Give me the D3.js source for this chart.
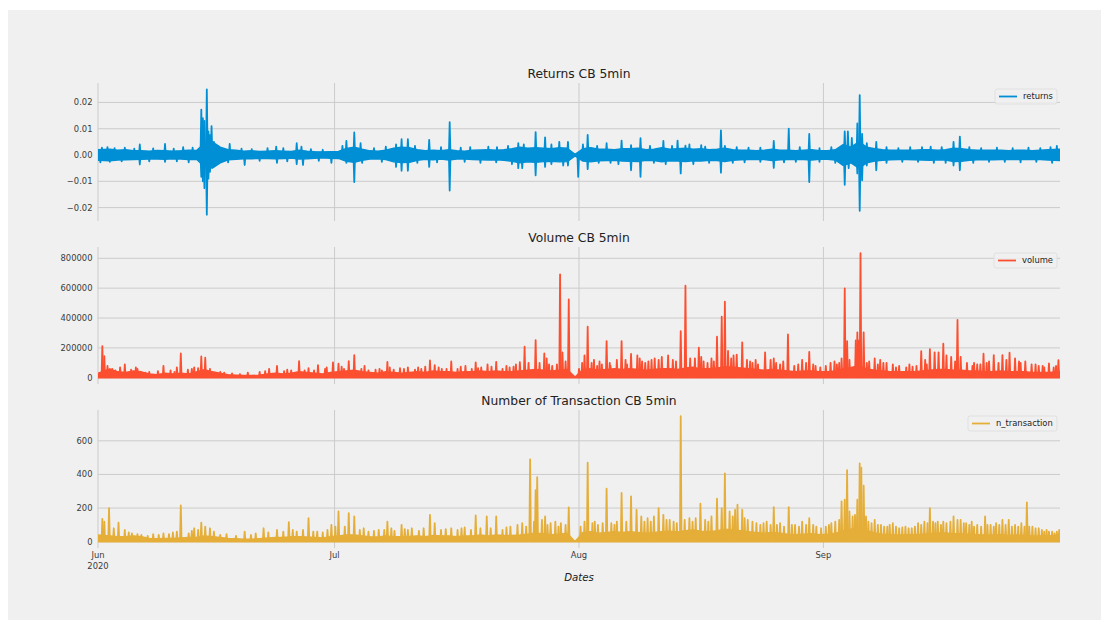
<!DOCTYPE html>
<html><head><meta charset="utf-8">
<script src="https://cdn.jsdelivr.net/npm/d3@7"></script>
<style>body{margin:0;background:#fff}text{font-family:"DejaVu Sans",sans-serif}</style>
</head><body>
<svg id="chart" width="1109" height="622"></svg>
<script>
// ---------------- DATA ----------------
const startDate = "2020-06-01";
const endDate = "2020-10-01";
const monthTicks = ["2020-06-01", "2020-07-01", "2020-08-01", "2020-09-01"];
const monthLabels = [["Jun", "2020"], ["Jul"], ["Aug"], ["Sep"]];

const returnsTicks = [-0.02, -0.01, 0, 0.01, 0.02];
const volumeTicks = [0, 200000, 400000, 600000, 800000];
const ntransTicks = [0, 200, 400, 600];

// daily envelope of the 5-min returns (x 0.001)
const returnsUp = [2.0,2.2,1.8,2.0,1.6,1.6,1.5,1.7,1.6,1.5,1.6,1.8,1.7,4.5,5.0,3.0,2.0,1.8,1.5,1.6,1.4,1.5,1.6,1.5,1.4,1.8,1.5,1.3,1.2,1.3,
  1.4,2.5,3.0,2.2,1.6,1.5,1.8,2.6,3.0,2.8,2.0,1.6,1.8,1.6,2.0,1.6,1.5,1.8,1.9,2.0,1.8,2.0,2.4,3.0,2.6,2.8,2.6,2.4,2.8,2.6,0.3,
  2.4,2.8,2.2,2.2,2.0,2.4,2.4,2.6,2.0,2.2,2.8,2.2,2.4,2.6,2.2,2.4,2.0,2.2,2.6,2.0,1.8,1.8,1.6,1.8,2.2,1.8,1.8,1.6,1.8,2.0,1.6,
  1.6,2.0,4.0,3.0,5.0,3.0,2.4,2.0,1.8,1.8,1.8,1.8,2.0,2.0,1.8,2.0,2.6,2.4,2.0,1.8,1.8,1.8,1.8,1.6,1.8,1.8,1.6,1.8,2.0,2.2];
const returnsDown = [-2.0,-2.2,-1.9,-1.8,-1.7,-1.6,-1.5,-1.5,-1.6,-1.4,-1.5,-1.7,-1.6,-4.5,-5.0,-3.0,-1.8,-1.6,-1.4,-1.4,-1.3,-1.3,-1.4,-1.3,-1.2,-1.5,-1.4,-1.2,-1.1,-1.2,
  -1.3,-2.4,-2.8,-2.0,-1.5,-1.4,-1.7,-2.6,-2.9,-2.8,-2.0,-1.6,-1.8,-1.5,-1.9,-1.5,-1.5,-1.7,-1.8,-1.9,-1.8,-2.0,-2.4,-3.0,-2.6,-2.8,-2.5,-2.4,-2.6,-2.5,-0.3,
  -2.3,-2.6,-2.2,-2.1,-2.0,-2.3,-2.4,-2.5,-2.0,-2.1,-2.6,-2.2,-2.3,-2.5,-2.2,-2.3,-2.0,-2.1,-2.5,-2.0,-1.8,-1.7,-1.6,-1.7,-2.1,-1.8,-1.7,-1.6,-1.7,-1.9,-1.6,
  -1.6,-1.9,-4.0,-3.0,-5.0,-3.0,-2.3,-2.0,-1.8,-1.7,-1.7,-1.8,-1.9,-2.0,-1.8,-1.9,-2.5,-2.4,-2.0,-1.8,-1.7,-1.8,-1.7,-1.6,-1.7,-1.7,-1.6,-1.7,-1.9,-2.1];
// spikes [day offset from start, value x 0.001]
const returnsSpikes = [
  [0.5,2.8],[1.2,3.0],[2.1,2.6],[3.4,2.8],[4.6,2.4],[5.3,4.0],[7.0,2.5],[8.5,4.2],[9.6,2.4],[10.8,3.0],[12.0,2.8],
  [13.1,17.3],[13.3,14.0],[13.5,13.0],[13.8,25.0],[14.0,9.0],[14.2,7.7],[14.4,11.0],[14.7,5.0],[15.2,3.5],
  [16.7,4.2],[18.2,2.4],[19.5,2.2],[21.5,2.6],[22.6,3.2],[23.5,2.6],[25.2,4.5],[25.8,3.2],[27.0,2.2],[28.5,2.0],
  [31.0,3.5],[31.5,5.4],[32.5,8.6],[33.3,4.5],[35.0,2.6],[36.5,3.2],[37.8,4.0],[38.5,6.0],[39.3,6.0],[40.2,3.5],[42.0,5.8],[43.5,3.0],[44.6,12.5],[46.0,2.8],[47.2,3.0],[49.5,3.2],[50.6,3.0],[52.0,3.5],[53.3,4.5],[54.0,4.0],[55.5,8.7],[56.7,6.7],[57.5,4.0],[58.5,5.0],[59.6,5.0],
  [61.5,4.0],[62.1,7.7],[63.3,3.5],[64.5,4.5],[66.4,5.5],[67.6,3.8],[68.8,6.4],[70.0,3.5],[71.7,5.4],[72.8,3.5],[73.5,5.5],[74.5,3.6],[75.0,4.0],[76.5,3.8],[77.0,3.2],[79.0,9.4],[79.5,3.5],[81.0,3.0],[82.5,2.8],[84.0,2.8],[85.7,5.4],[87.6,10.0],[89.0,3.0],[90.2,8.0],[91.5,2.6],
  [93.0,3.0],[94.7,9.0],[95.1,9.0],[95.6,6.5],[96.3,12.0],[96.6,22.8],[96.9,8.0],[97.5,4.5],[98.7,5.0],[100.0,3.0],[101.5,2.6],[103.0,3.0],[104.5,3.0],[105.6,3.2],[107.0,3.0],[108.5,5.0],[109.3,7.0],[110.5,3.0],[112.0,2.6],[114.0,2.8],[116.0,2.6],[118.0,2.8],[119.5,2.6],[120.8,3.0],[121.6,3.5],
  [0.3,-2.8],[1.5,-2.6],[3.0,-2.4],[5.3,-3.6],[6.5,-2.4],[8.5,-2.6],[10.0,-2.4],[11.5,-2.8],
  [13.1,-8.3],[13.3,-10.0],[13.5,-12.6],[13.8,-22.7],[14.0,-9.0],[14.2,-6.4],[14.4,-4.0],[14.8,-3.5],
  [16.5,-2.8],[18.6,-3.8],[20.5,-2.2],[22.7,-3.0],[24.0,-2.4],[25.2,-3.5],[26.0,-3.8],[28.0,-2.2],[29.6,-3.0],
  [31.5,-3.0],[32.5,-10.3],[33.5,-3.0],[36.0,-2.6],[37.8,-4.5],[38.5,-6.0],[39.3,-6.0],[40.5,-3.0],[42.0,-4.5],[43.0,-2.8],[44.6,-13.5],[46.5,-2.6],[48.5,-3.0],[50.5,-2.8],[52.5,-3.5],[53.3,-5.0],[53.8,-5.0],[55.5,-7.7],[56.7,-4.5],[57.5,-3.5],[59.0,-4.0],[59.6,-4.0],[60.9,-8.3],
  [62.1,-5.4],[63.5,-3.0],[65.0,-3.0],[66.0,-3.5],[67.6,-5.8],[68.8,-8.3],[70.5,-3.0],[72.0,-3.5],[73.9,-7.0],[75.5,-3.5],[77.5,-3.0],[79.0,-6.7],[80.5,-3.0],[82.0,-2.8],[84.0,-2.6],[85.7,-4.9],[87.0,-2.8],[88.5,-2.6],[90.2,-10.3],[91.5,-2.6],
  [93.5,-3.0],[94.7,-11.3],[95.2,-5.0],[96.3,-7.0],[96.6,-21.2],[96.9,-9.6],[97.5,-4.0],[98.7,-5.8],[100.0,-3.0],[102.0,-2.6],[104.0,-2.6],[106.0,-3.0],[107.5,-3.0],[108.5,-4.0],[109.3,-5.8],[111.0,-3.0],[113.0,-2.6],[115.0,-2.6],[117.0,-2.8],[119.0,-2.6],[121.0,-3.0]
];

// daily base level of volume (thousands)
const volumeBase = [30,60,40,35,45,40,25,20,30,25,30,25,40,55,40,30,20,18,15,15,18,25,30,25,30,40,35,30,25,35,
  40,45,50,40,35,30,40,35,30,35,40,35,45,40,40,35,40,40,45,40,45,40,40,45,50,55,50,45,50,55,5,
  55,60,50,55,60,55,60,55,50,55,60,60,55,65,70,60,60,65,75,70,65,60,55,50,55,50,45,40,45,45,40,
  40,45,60,70,80,60,50,45,40,40,40,40,45,50,55,55,50,50,45,45,40,40,45,40,40,40,35,35,35,40];
const volumeSpikes = [
  [0.55,212],[0.8,145],[1.2,80],[1.8,60],[2.2,50],[2.8,70],[3.4,90],[4.2,55],[4.8,70],[5.0,60],[6.0,35],[6.5,40],[7.6,45],[8.3,80],[9.2,50],[9.7,40],[10.0,70],[10.5,163],[11.4,55],[11.9,60],[12.2,70],[12.7,65],[13.1,143],[13.6,134],[14.2,60],[15.5,40],[16.0,35],[17.0,30],[18.0,25],[19.0,35],[20.5,40],[21.2,45],[21.7,60],[22.7,80],[23.6,45],[24.0,55],[24.5,50],[25.5,112],[26.2,50],[26.7,65],[27.4,50],[27.9,85],[28.8,60],[29.0,70],[29.8,103],
  [30.5,95],[30.9,75],[31.2,60],[31.8,112],[32.5,152],[33.4,60],[33.8,80],[34.3,50],[35.2,55],[35.7,60],[36.0,50],[36.7,107],[37.0,70],[37.5,55],[38.3,65],[38.8,60],[39.3,70],[40.2,55],[40.6,70],[41.0,60],[41.5,75],[42.1,116],[42.7,85],[43.2,70],[43.6,60],[44.2,60],[44.8,110],[45.6,60],[46.0,75],[46.6,80],[47.4,60],[47.9,103],[48.2,65],[48.6,70],[49.4,90],[49.9,75],[50.5,107],[51.3,60],[51.8,80],[52.2,70],[52.7,75],[53.0,90],[53.5,105],[54.1,208],[54.6,100],[55.5,252],[56.0,100],[56.6,163],[56.9,130],[57.2,90],[57.6,80],[58.2,90],[58.6,693],[58.9,170],[59.3,110],[59.7,525],
  [61.0,60],[61.4,100],[61.7,150],[62.1,342],[62.6,100],[62.9,120],[63.3,80],[63.6,110],[63.9,90],[64.5,246],[64.9,100],[65.0,80],[65.8,120],[66.4,246],[66.9,120],[67.1,90],[67.6,160],[68.4,150],[68.7,130],[69.0,110],[69.4,100],[69.8,110],[70.2,120],[70.6,130],[71.1,120],[71.5,140],[72.3,150],[72.9,120],[73.3,110],[73.9,313],[74.5,617],[75.1,130],[75.7,130],[76.2,201],[76.5,140],[76.8,110],[77.3,100],[77.8,130],[78.1,110],[78.5,275],[79.1,409],[79.5,510],[79.9,180],[80.3,130],[80.6,150],[81.0,155],[81.7,237],[82.3,120],[82.7,110],[83.0,100],[83.4,120],[83.7,90],[84.6,170],[85.3,120],[85.7,130],[86.0,100],[86.5,90],[86.9,110],[87.5,290],[88.3,80],[88.8,90],[89.3,120],[89.8,100],[90.2,174],[90.7,90],[91.0,80],[91.6,70],
  [92.3,80],[92.9,100],[93.4,110],[93.7,90],[94.0,100],[94.3,130],[94.7,599],[95.0,246],[95.3,120],[96.1,250],[96.3,304],[96.5,250],[96.7,834],[97.1,304],[97.5,100],[97.8,110],[98.5,130],[98.9,90],[99.2,120],[99.6,100],[100.0,100],[100.8,90],[101.2,70],[101.6,80],[102.5,70],[102.9,90],[103.3,75],[103.8,80],[104.4,179],[104.9,120],[105.1,90],[105.5,192],[106.1,170],[106.6,170],[107.2,228],[107.6,150],[108.2,140],[108.7,110],[109.0,387],[109.4,140],[110.2,100],[110.9,80],[111.1,100],[111.5,90],[111.9,90],[112.3,161],[112.7,100],[113.0,110],[113.6,152],[114.2,100],[114.7,152],[115.2,120],[115.6,168],[116.3,130],[116.8,110],[117.0,100],[117.6,110],[118.4,90],[118.9,90],[119.3,80],[119.8,80],[120.0,70],[120.6,96],[121.2,70],[121.5,80],[121.8,118]
];

// daily base level of number of transactions
const ntransBase = [40,35,30,30,35,30,20,18,20,20,22,25,25,35,30,25,20,18,15,15,18,22,25,25,30,30,28,25,22,30,
  35,40,40,35,30,28,35,30,30,32,35,30,38,35,35,30,35,35,40,35,40,38,38,40,45,50,48,42,45,50,2,
  55,60,50,55,60,55,60,55,50,55,60,62,58,65,70,62,60,65,75,70,65,60,55,50,55,50,45,42,45,48,42,
  45,50,65,75,85,65,52,45,42,40,42,42,45,48,52,52,48,48,45,42,40,40,42,38,40,38,35,35,35,40];
const ntransSpikes = [
  [0.55,136],[0.8,120],[1.4,200],[2.0,80],[2.6,114],[3.4,70],[3.9,55],[4.3,50],[5.0,45],[5.5,40],[6.3,35],[7.0,45],[7.7,40],[8.3,50],[9.0,45],[9.5,55],[10.0,60],[10.5,216],[11.5,50],[11.9,65],[12.2,80],[12.7,70],[13.1,114],[13.6,90],[14.2,80],[14.7,60],[15.5,40],[16.3,45],[17.5,35],[18.6,60],[19.4,40],[20.0,50],[21.0,80],[21.6,55],[22.7,70],[23.5,60],[24.2,116],[24.7,70],[25.2,60],[26.0,70],[26.7,140],[27.3,60],[27.8,60],[28.5,55],[29.1,70],[29.6,100],
  [30.1,90],[30.5,180],[31.3,90],[31.8,170],[32.5,150],[33.2,70],[33.7,80],[34.3,60],[35.0,65],[35.6,70],[36.3,70],[36.7,120],[37.2,80],[37.6,65],[38.5,100],[38.9,75],[39.3,70],[39.8,80],[40.7,65],[41.3,80],[42.1,160],[42.7,110],[43.5,70],[44.1,75],[44.8,80],[45.6,70],[46.1,80],[46.5,85],[47.3,70],[47.9,156],[48.5,80],[49.3,150],[49.8,80],[50.5,150],[51.3,70],[51.8,85],[52.3,90],[53.2,100],[53.8,110],[54.3,90],[54.8,490],[55.3,120],[55.5,306],[55.7,384],[56.3,130],[56.7,150],[57.0,100],[57.4,110],[58.0,120],[58.4,90],[58.7,110],[59.3,100],[59.7,204],
  [61.2,90],[61.7,120],[62.1,470],[62.7,110],[63.0,120],[63.4,100],[64.0,110],[64.5,316],[65.1,110],[65.5,100],[65.8,120],[66.4,290],[67.0,120],[67.6,270],[68.3,190],[68.9,150],[69.3,120],[69.7,140],[70.1,120],[70.5,150],[71.1,200],[71.7,160],[72.1,130],[72.5,130],[73.0,120],[73.4,110],[73.9,746],[74.4,130],[75.0,140],[75.4,120],[75.8,140],[76.4,226],[77.0,130],[77.4,120],[77.8,150],[78.5,256],[79.1,200],[79.5,406],[80.1,180],[80.5,150],[80.8,190],[81.1,220],[81.7,190],[82.0,140],[82.4,130],[83.0,120],[83.5,110],[84.0,100],[84.4,110],[84.8,120],[85.3,100],[85.7,206],[86.1,100],[86.5,110],[87.0,90],[87.6,206],[88.0,100],[88.4,100],[88.9,90],[89.3,120],[89.8,100],[90.2,140],[90.7,100],[91.1,90],[91.7,80],
  [92.3,90],[92.7,100],[93.0,110],[93.5,120],[94.0,130],[94.3,240],[94.7,250],[95.0,426],[95.3,180],[95.7,150],[96.0,160],[96.3,250],[96.6,466],[96.8,440],[97.1,334],[97.4,150],[97.7,120],[98.1,110],[98.5,130],[98.9,100],[99.3,100],[99.7,90],[100.1,90],[100.4,100],[100.8,110],[101.2,90],[101.6,80],[102.0,85],[102.4,90],[102.8,80],[103.2,80],[103.6,90],[104.0,110],[104.4,100],[104.8,120],[105.2,110],[105.5,200],[105.9,120],[106.2,110],[106.5,120],[106.9,100],[107.2,120],[107.6,110],[108.1,120],[108.5,150],[109.0,130],[109.4,130],[109.8,110],[110.1,110],[110.5,100],[110.8,120],[111.1,90],[111.5,100],[112.0,90],[112.5,150],[112.8,100],[113.2,100],[113.6,90],[113.9,110],[114.3,100],[114.7,130],[115.1,100],[115.5,130],[115.9,90],[116.3,100],[116.7,90],[117.1,110],[117.5,90],[117.8,234],[118.1,90],[118.5,90],[118.9,80],[119.3,80],[119.7,70],[120.0,60],[120.3,70],[120.6,60],[121.0,60],[121.3,50],[121.6,60],[121.9,70]
];

// ---------------- DRAWING ----------------
const svg = d3.select("#chart");
svg.append("rect").attr("x", 8).attr("y", 10).attr("width", 1093).attr("height", 610).attr("fill", "#f0f0f0");

const parse = d3.utcParse("%Y-%m-%d");
const t0 = parse(startDate);
const dayToDate = d => new Date(t0.getTime() + d * 864e5);
const x = d3.scaleUtc().domain([t0, parse(endDate)]).range([98, 1060]);
const dayX = (i, n) => i === 0 ? 0 : (i === n - 1 ? n : i + 0.5);

const panels = [
  {top: 83, bottom: 221, domain: [-0.0251, 0.0274], ticks: returnsTicks, fmt: d => d3.format(".2f")(d).replace("-", "\u2212"),
   title: "Returns CB 5min", color: "#008fd5", label: "returns", lw: 62},
  {top: 247, bottom: 384, domain: [-41700, 875700], ticks: volumeTicks, fmt: d3.format("d"),
   title: "Volume CB 5min", color: "#fc4f30", label: "volume", lw: 63},
  {top: 410, bottom: 548, domain: [-37.3, 783.3], ticks: ntransTicks, fmt: d3.format("d"),
   title: "Number of Transaction CB 5min", color: "#e5ae38", label: "n_transaction", lw: 89}
];

panels.forEach((p, k) => {
  const y = d3.scaleLinear().domain(p.domain).range([p.bottom, p.top]);
  p.y = y;
  const g = svg.append("g");
  g.selectAll(".hg").data(p.ticks).join("line")
    .attr("x1", 98).attr("x2", 1060).attr("y1", d => y(d)).attr("y2", d => y(d))
    .attr("stroke", "#cbcbcb").attr("stroke-width", 1);
  g.selectAll(".vg").data(monthTicks).join("line")
    .attr("x1", d => x(parse(d))).attr("x2", d => x(parse(d)))
    .attr("y1", p.top).attr("y2", p.bottom)
    .attr("stroke", "#cbcbcb").attr("stroke-width", 1);
  g.selectAll(".yl").data(p.ticks).join("text")
    .attr("x", 92.5).attr("y", d => y(d)).attr("dy", "0.35em")
    .attr("text-anchor", "end").attr("font-size", 8.4).attr("fill", "#3a3a3a")
    .text(p.fmt);
  g.append("text").attr("x", 579).attr("y", p.top - 5)
    .attr("text-anchor", "middle").attr("font-size", 12.3).attr("fill", "#222")
    .text(p.title);
  const clipId = "clip" + k;
  svg.append("clipPath").attr("id", clipId).append("rect")
    .attr("x", 98).attr("y", p.top).attr("width", 962).attr("height", p.bottom - p.top);
  p.plot = svg.append("g").attr("clip-path", `url(#${clipId})`);
});

// returns
{
  const p = panels[0], y = p.y;
  const n = returnsUp.length;
  const band = returnsUp.map((u, i) => ({d: dayX(i, n), u: u / 1000, l: returnsDown[i] / 1000}));
  const area = d3.area().x(d => x(dayToDate(d.d))).y0(d => y(d.l)).y1(d => y(d.u));
  p.plot.append("path").datum(band).attr("d", area).attr("fill", p.color)
    .attr("stroke", p.color).attr("stroke-width", 1.4).attr("stroke-linejoin", "round");
  const line = d3.line().x(d => x(dayToDate(d[0]))).y(d => y(d[1]));
  p.plot.selectAll(".sp").data(returnsSpikes).join("path")
    .attr("d", s => line([[s[0] - 0.1, 0], [s[0], s[1] / 1000], [s[0] + 0.1, 0]]))
    .attr("fill", "none").attr("stroke", p.color).attr("stroke-width", 1.8).attr("stroke-linejoin", "round");
}

function drawPositive(p, base, spikes, scale) {
  const y = p.y, n = base.length;
  const pts = base.map((v, i) => ({d: dayX(i, n), v: v * scale}));
  const area = d3.area().x(d => x(dayToDate(d.d))).y0(y(0)).y1(d => y(d.v));
  p.plot.append("path").datum(pts).attr("d", area).attr("fill", p.color)
    .attr("stroke", p.color).attr("stroke-width", 1.4).attr("stroke-linejoin", "round");
  const line = d3.line().x(d => x(dayToDate(d[0]))).y(d => y(d[1]));
  p.plot.selectAll(".sp").data(spikes).join("path")
    .attr("d", s => line([[s[0] - 0.1, 0], [s[0], s[1] * scale], [s[0] + 0.1, 0]]))
    .attr("fill", "none").attr("stroke", p.color).attr("stroke-width", 1.8).attr("stroke-linejoin", "round");
}
drawPositive(panels[1], volumeBase, volumeSpikes, 1000);
drawPositive(panels[2], ntransBase, ntransSpikes, 1);

// legends
panels.forEach(p => {
  const lx = 1057 - p.lw, ly = p.top + 6;
  const lg = svg.append("g");
  lg.append("rect").attr("x", lx).attr("y", ly).attr("width", p.lw).attr("height", 15)
    .attr("rx", 2).attr("fill", "#f0f0f0").attr("fill-opacity", 0.85).attr("stroke", "#dcdcdc").attr("stroke-width", 0.8);
  lg.append("line").attr("x1", lx + 4).attr("x2", lx + 22).attr("y1", ly + 7.5).attr("y2", ly + 7.5)
    .attr("stroke", p.color).attr("stroke-width", 1.8);
  lg.append("text").attr("x", lx + 28).attr("y", ly + 7.5).attr("dy", "0.35em")
    .attr("font-size", 8.4).attr("fill", "#222").text(p.label);
});

// x tick labels (bottom panel only)
const xl = svg.append("g");
monthTicks.forEach((m, i) => {
  const t = xl.append("text").attr("x", x(parse(m))).attr("y", 558)
    .attr("text-anchor", "middle").attr("font-size", 8.4).attr("fill", "#3a3a3a");
  monthLabels[i].forEach((s, j) => t.append("tspan").attr("x", x(parse(m))).attr("dy", j === 0 ? 0 : 10.5).text(s));
});
svg.append("text").attr("x", 579).attr("y", 581).attr("text-anchor", "middle")
  .attr("font-size", 10.2).attr("font-style", "italic").attr("fill", "#222").text("Dates");
</script>
</body></html>
